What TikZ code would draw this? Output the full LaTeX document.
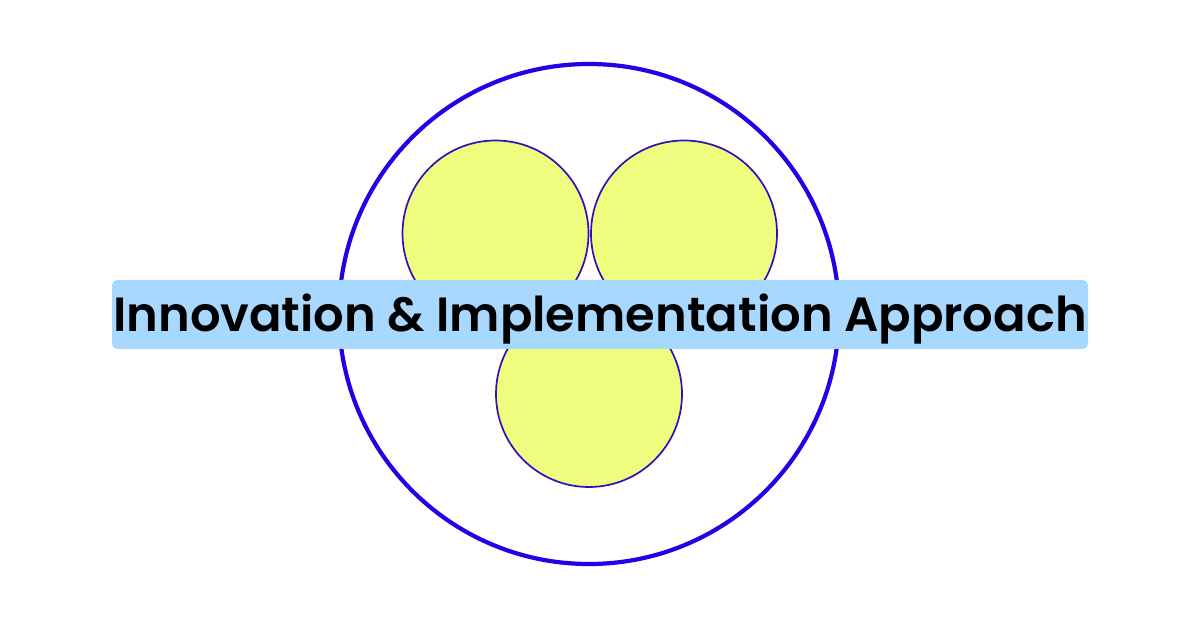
\documentclass[tikz,border=0pt]{standalone}
\usepackage{fontspec}
\setmainfont{Poppins}[BoldFont={Poppins SemiBold}]
\definecolor{ringblue}{HTML}{2400E6}
\definecolor{smallstroke}{HTML}{3010B8}
\definecolor{yellowfill}{HTML}{EFFD7E}
\definecolor{bannerblue}{HTML}{A9D8FF}
\begin{document}
\begin{tikzpicture}[x=1pt,y=-1pt,
  ring/.style={circle, draw=ringblue, line width=4.2pt, minimum size=500pt, inner sep=0pt},
  petal/.style={circle, draw=smallstroke, fill=yellowfill, line width=1.7pt, minimum size=186pt, inner sep=0pt},
  banner/.style={rectangle, fill=bannerblue, rounded corners=5pt, minimum width=976pt, minimum height=69pt, inner sep=0pt, text height=52pt, text depth=17pt, font=\fontsize{48}{58}\selectfont\bfseries}]
\useasboundingbox (0,0) rectangle (1200,628);
\fill[white] (0,0) rectangle (1200,628);
\node[ring] (outer) at (589,314) {};
\node[petal] (left) at (495.5,233.5) {};
\node[petal] (right) at (684,233.5) {};
\node[petal] (bottom) at (589,394) {};
\node[banner] (title) at (600,314.5) {Innovation \& Implementation Approach};
\end{tikzpicture}
\end{document}
